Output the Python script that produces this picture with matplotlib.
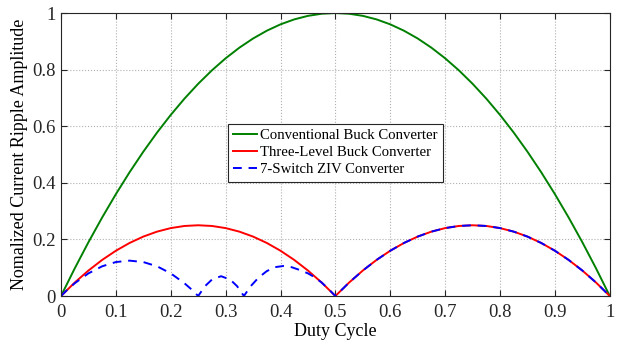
import matplotlib.pyplot as plt

# duty cycle samples
duty = [0.0, 0.025, 0.05, 0.075, 0.1, 0.125, 0.15, 0.175, 0.2, 0.225, 0.25,
        0.275, 0.3, 0.325, 0.35, 0.375, 0.4, 0.425, 0.45, 0.475, 0.5,
        0.525, 0.55, 0.575, 0.6, 0.625, 0.65, 0.675, 0.7, 0.725, 0.75,
        0.775, 0.8, 0.825, 0.85, 0.875, 0.9, 0.925, 0.95, 0.975, 1.0]

conventional = [0.0, 0.0975, 0.19, 0.2775, 0.36, 0.4375, 0.51, 0.5775, 0.64, 0.6975, 0.75,
                0.7975, 0.84, 0.8775, 0.91, 0.9375, 0.96, 0.9775, 0.99, 0.9975, 1.0,
                0.9975, 0.99, 0.9775, 0.96, 0.9375, 0.91, 0.8775, 0.84, 0.7975, 0.75,
                0.6975, 0.64, 0.5775, 0.51, 0.4375, 0.36, 0.2775, 0.19, 0.0975, 0.0]

three_level = [0.0, 0.0475, 0.09, 0.1275, 0.16, 0.1875, 0.21, 0.2275, 0.24, 0.2475, 0.25,
               0.2475, 0.24, 0.2275, 0.21, 0.1875, 0.16, 0.1275, 0.09, 0.0475, 0.0,
               0.0475, 0.09, 0.1275, 0.16, 0.1875, 0.21, 0.2275, 0.24, 0.2475, 0.25,
               0.2475, 0.24, 0.2275, 0.21, 0.1875, 0.16, 0.1275, 0.09, 0.0475, 0.0]

ziv_duty = [0.0, 0.0125, 0.025, 0.05, 0.075, 0.1, 0.125, 0.15, 0.175, 0.2, 0.225, 0.2375, 0.25,
            0.2625, 0.275, 0.2917, 0.3083, 0.3208, 0.3333,
            0.3458, 0.36, 0.375, 0.39, 0.405, 0.42, 0.435, 0.45, 0.4625, 0.475, 0.4875, 0.5,
            0.525, 0.55, 0.575, 0.6, 0.625, 0.65, 0.675, 0.7, 0.725, 0.75,
            0.775, 0.8, 0.825, 0.85, 0.875, 0.9, 0.925, 0.95, 0.975, 1.0]
ziv = [0.0, 0.0238, 0.045, 0.08, 0.105, 0.12, 0.125, 0.12, 0.105, 0.08, 0.045, 0.0238, 0.0,
       0.035, 0.058, 0.07, 0.058, 0.035, 0.0,
       0.035, 0.065, 0.088, 0.102, 0.106, 0.102, 0.092, 0.08, 0.066, 0.0475, 0.0245, 0.0,
       0.0475, 0.09, 0.1275, 0.16, 0.1875, 0.21, 0.2275, 0.24, 0.2475, 0.25,
       0.2475, 0.24, 0.2275, 0.21, 0.1875, 0.16, 0.1275, 0.09, 0.0475, 0.0]

xticks = [0, 0.1, 0.2, 0.3, 0.4, 0.5, 0.6, 0.7, 0.8, 0.9, 1]
xticklabels = ["0", "0.1", "0.2", "0.3", "0.4", "0.5", "0.6", "0.7", "0.8", "0.9", "1"]
yticks = [0, 0.2, 0.4, 0.6, 0.8, 1]
yticklabels = ["0", "0.2", "0.4", "0.6", "0.8", "1"]

plt.rcParams['font.family'] = ['Liberation Serif', 'DejaVu Serif']

fig = plt.figure(figsize=(6.18, 3.43), dpi=100)
ax = fig.add_axes([0.0987, 0.137, 0.888, 0.825])

ax.plot(duty, conventional, color="#008000", lw=1.4, label="Conventional Buck Converter")
ax.plot(duty, three_level, color="#ff0000", lw=1.4, label="Three-Level Buck Converter")
ax.plot(ziv_duty, ziv, color="#0000ff", lw=1.4, ls=(0, (4.5, 3.5)), label="7-Switch ZIV Converter")

ax.set_xlim(0, 1)
ax.set_ylim(0, 1)
ax.set_xticks(xticks)
ax.set_xticklabels(xticklabels)
ax.set_yticks(yticks)
ax.set_yticklabels(yticklabels)
ax.tick_params(direction="in", length=4, top=True, right=True, labelsize=13.5, colors="#262626")
ax.tick_params(axis="x", pad=6)
ax.tick_params(axis="y", pad=4)
ax.grid(True, color="#b0b0b0", ls=":", lw=0.8)
for s in ax.spines.values():
    s.set_color("#262626")
    s.set_linewidth(0.8)

ax.set_xlabel("Duty Cycle", fontsize=13, labelpad=1)
ax.set_ylabel("Nomalized Current Ripple Amplitude", fontsize=13, labelpad=3)

leg = ax.legend(loc="upper center", bbox_to_anchor=(0.5, 0.608), fontsize=10.6,
                fancybox=False, framealpha=1, edgecolor="#262626",
                handlelength=1.6, handletextpad=0.2, borderpad=0.35, labelspacing=0.25,
                borderaxespad=0)
leg.get_frame().set_linewidth(0.8)

fig.savefig("out.png", dpi=100)
